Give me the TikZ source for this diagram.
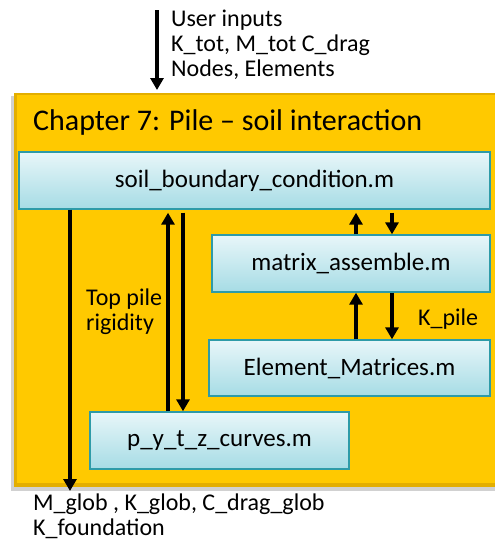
\documentclass[tikz,border=0pt]{standalone}
\usepackage{fontspec}
\setmainfont{Carlito}
\usetikzlibrary{arrows.meta}
\definecolor{gold}{HTML}{FFC900}
\definecolor{golddark}{HTML}{E3AE00}
\definecolor{boxtop}{HTML}{E8F6F9}
\definecolor{boxbot}{HTML}{A6DCE5}
\definecolor{boxline}{HTML}{2E9BA8}
\tikzset{
  x=1pt, y=-1pt,
  mfile/.style={draw=boxline, line width=1.4pt, top color=boxtop, bottom color=boxbot,
    rectangle, inner sep=0pt, font=\fontsize{25}{30}\selectfont},
  flow/.style={line width=3.6pt, -{Triangle[length=12pt,width=13pt]}},
  lbl/.style={font=\fontsize{24}{25}\selectfont, align=left, inner sep=0pt, anchor=north west},
}
\begin{document}
\begin{tikzpicture}
\useasboundingbox (0,0) rectangle (495,542);
\fill[white] (0,0) rectangle (495,542);
% chapter panel with soft shadow
\fill[black!18] (11,96) rectangle (497,491);
\fill[golddark] (14,93) rectangle (497,487);
\fill[gold] (17,95) rectangle (497,483);
\node[anchor=west, inner sep=0pt, font=\fontsize{30}{34}\selectfont] (title) at (33,122) {Chapter 7: Pile -- soil interaction};
% program files
\node[mfile, minimum width=471pt, minimum height=57pt] (sbc) at (254.5,180.5) {soil\_boundary\_condition.m};
\node[mfile, minimum width=278pt, minimum height=57pt] (ma) at (351,263.5) {matrix\_assemble.m};
\node[mfile, minimum width=281pt, minimum height=56pt] (em) at (349.5,368) {Element\_Matrices.m};
\node[mfile, minimum width=259pt, minimum height=57pt] (py) at (219.5,440.5) {p\_y\_t\_z\_curves.m};
% input arrow
\coordinate (in) at (157,10);
\draw[flow] (in) -- (157,90);
\node[lbl] (inputs) at (171,10) {User inputs\\K\_tot, M\_tot C\_drag\\Nodes, Elements};
% output arrow
\coordinate (out) at (70,491);
\draw[flow] (sbc.south -| out) -- (out);
\node[lbl] (outputs) at (33,494) {M\_glob , K\_glob, C\_drag\_glob\\K\_foundation};
% soil_boundary_condition <-> p_y_t_z_curves
\coordinate (up1) at (168,0);
\coordinate (dn1) at (183,0);
\draw[flow] (py.north -| up1) -- ([yshift=-3pt]sbc.south -| up1);
\draw[flow] ([yshift=-3pt]sbc.south -| dn1) -- (py.north -| dn1);
\node[lbl] (rig) at (86,289) {Top pile\\rigidity};
% soil_boundary_condition <-> matrix_assemble
\coordinate (up2) at (356,0);
\coordinate (dn2) at (392,0);
\draw[flow] (ma.north -| up2) -- ([yshift=-3pt]sbc.south -| up2);
\draw[flow] ([yshift=-3pt]sbc.south -| dn2) -- (ma.north -| dn2);
% matrix_assemble <-> Element_Matrices
\draw[flow] (em.north -| up2) -- (ma.south -| up2);
\draw[flow] (ma.south -| dn2) -- (em.north -| dn2);
\node[lbl] (kpile) at (418,309) {K\_pile};
\end{tikzpicture}
\end{document}
